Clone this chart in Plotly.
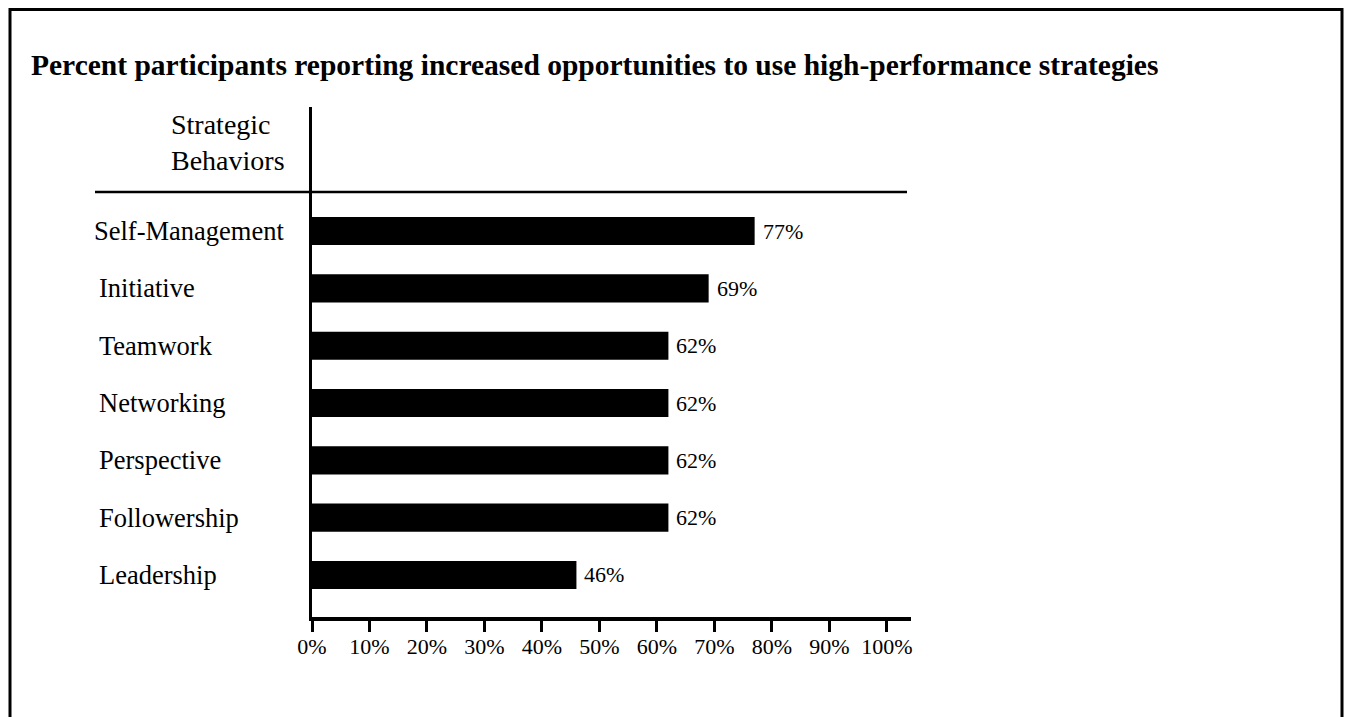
import plotly.graph_objects as go

# Strategic behaviours, listed top to bottom, and the share of participants
behaviors = ["Self-Management", "Initiative", "Teamwork", "Networking",
             "Perspective", "Followership", "Leadership"]
percent = [77, 69, 62, 62, 62, 62, 46]
tick_values = [0, 10, 20, 30, 40, 50, 60, 70, 80, 90, 100]
tick_labels = [f"{v}%" for v in tick_values]

title_text = "Percent participants reporting increased opportunities to use high-performance strategies"
header_text = "Strategic<br>Behaviors"

SERIF = "Liberation Serif"
W, H = 1345, 717
L, R, T, B = 312, 911, 107, 617  # plot area edges in pixels


def px_x(x):
    return (x - L) / (R - L)


def px_y(y):
    return (B - y) / (B - T)


fig = go.Figure()

fig.add_trace(go.Bar(
    x=percent, y=behaviors, orientation="h",
    width=0.49,
    marker=dict(color="black", line=dict(width=0)),
    hoverinfo="skip",
))

annotations = []

# value labels just past the end of each bar
for name, v in zip(behaviors, percent):
    annotations.append(dict(
        text=f"{v}%", xref="x", yref="y", x=v, y=name,
        xanchor="left", yanchor="middle", xshift=6, showarrow=False,
        font=dict(family=SERIF, size=22, color="black"),
    ))

# category names, left aligned
for i, name in enumerate(behaviors):
    annotations.append(dict(
        text=name, xref="paper", yref="y",
        x=px_x(92 if i == 0 else 97), y=name,
        xanchor="left", yanchor="middle", showarrow=False,
        font=dict(family=SERIF, size=26.5, color="black"),
    ))

annotations.append(dict(
    text=header_text, xref="paper", yref="paper",
    x=px_x(169), y=px_y(142), xanchor="left", yanchor="middle",
    align="left", showarrow=False,
    font=dict(family=SERIF, size=28, color="black"),
))

shapes = [
    # outer frame
    dict(type="rect", xref="paper", yref="paper",
         x0=px_x(10), x1=px_x(1342), y0=px_y(740), y1=px_y(9.5),
         line=dict(color="black", width=3), fillcolor="rgba(0,0,0,0)"),
    # header divider
    dict(type="line", xref="paper", yref="paper",
         x0=px_x(95), x1=px_x(907), y0=px_y(192), y1=px_y(192),
         line=dict(color="black", width=2.5)),
]

n = len(behaviors)
fig.update_layout(
    width=W, height=H,
    margin=dict(l=L, r=W - R, t=T, b=H - B, pad=0),
    paper_bgcolor="white", plot_bgcolor="white",
    showlegend=False,
    font=dict(family=SERIF, color="black"),
    title=dict(text=f"<b>{title_text}</b>", x=31 / W, xanchor="left",
               y=1 - 65 / H, yanchor="middle",
               font=dict(family=SERIF, size=29.5, color="black")),
    xaxis=dict(range=[0, 104.2], showgrid=False, zeroline=False,
               showline=True, linecolor="black", linewidth=4,
               ticks="outside", ticklen=11, tickwidth=2.5, tickcolor="black",
               tickmode="array", tickvals=tick_values, ticktext=tick_labels,
               ticklabelstandoff=-4,
               tickfont=dict(family=SERIF, size=22, color="black"),
               fixedrange=True),
    yaxis=dict(type="category", categoryorder="array", categoryarray=behaviors,
               range=[n - 1 + 0.733, -2.164], showgrid=False, zeroline=False,
               showline=True, linecolor="black", linewidth=3,
               showticklabels=False, ticks="", fixedrange=True),
    annotations=annotations,
    shapes=shapes,
)

fig.write_html("out.html")
